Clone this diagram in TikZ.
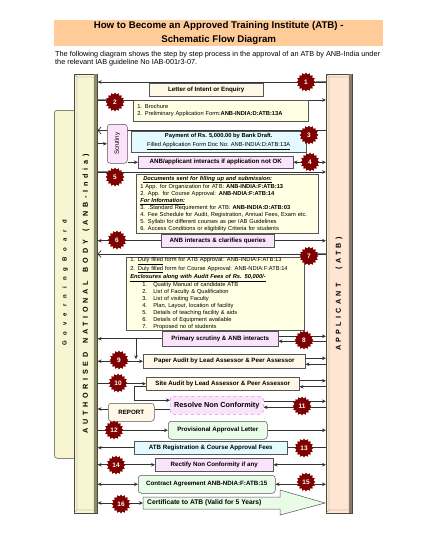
\documentclass[tikz,border=0pt]{standalone}
\usepackage{fontspec}
\setmainfont{Liberation Sans}
\setsansfont{Liberation Sans}
\usetikzlibrary{arrows.meta,shapes.geometric}
\definecolor{titlefill}{HTML}{FFCC99}
\definecolor{lbarfill}{HTML}{F8F5D3}
\definecolor{lbardark}{HTML}{8E8A66}
\definecolor{barline}{HTML}{4A4A3A}
\definecolor{rbarfill}{HTML}{FEE6D3}
\definecolor{rbardark}{HTML}{8A7A6C}
\definecolor{creamf}{HTML}{FFF7E8}
\definecolor{lyellow}{HTML}{FFFFE3}
\definecolor{pinkf}{HTML}{FCE3FC}
\definecolor{cyanf}{HTML}{E3FAFE}
\definecolor{greenf}{HTML}{E8FCE8}
\definecolor{badgered}{HTML}{7F0000}
\definecolor{boxline}{HTML}{555555}
\definecolor{pinkline}{HTML}{E090C8}
\pgfdeclarelayer{bg}
\pgfsetlayers{bg,main}
\tikzset{
  bx/.style={draw=boxline, line width=0.5pt, anchor=north west, inner sep=0pt, align=center,
    font=\fontsize{6.2}{7}\selectfont\bfseries},
  lst/.style={draw=boxline, line width=0.5pt, anchor=north west, inner ysep=0pt, inner xsep=4pt,
    align=left, font=\fontsize{5.75}{7}\selectfont},
  badge/.style={star, star points=16, star point ratio=1.25, fill=badgered, minimum size=19pt,
    inner sep=0pt, text=white, font=\fontsize{6.5}{6.5}\selectfont\bfseries},
  ln/.style={draw=black!80, line width=0.7pt},
  arr/.style={ln, -{Stealth[length=4pt,width=3.6pt]}},
  darr/.style={ln, {Stealth[length=4pt,width=3.6pt]}-{Stealth[length=4pt,width=3.6pt]}},
  barb/.style={ln, -{Straight Barb[length=3pt,width=7pt]}},
  tail/.style={draw=black!50, line width=1.6pt},
}
\begin{document}
\begin{tikzpicture}[x=1pt,y=-1pt]
\useasboundingbox (0,0) rectangle (428,554);
% title and description
\node[fill=titlefill, minimum width=329pt, minimum height=26pt, anchor=north west, inner sep=0pt,
  align=center, font=\fontsize{9.7}{13.5}\selectfont\bfseries] (title) at (54,20)
  {How to Become an Approved Training Institute (ATB) -\\Schematic Flow Diagram};
\node[anchor=north west, inner sep=0pt, align=left, font=\fontsize{7.3}{8}\selectfont] (desc) at (55,51.5)
  {The following diagram shows the step by step process in the approval of an ATB by ANB-India under\\the relevant IAB guideline No IAB-001r3-07.};
% governing board
\node[draw=barline, line width=0.5pt, fill=lbarfill, rounded corners=3pt, anchor=north west,
  minimum width=24pt, minimum height=348pt, inner sep=0pt] (gov) at (54,110) {};
\node[inner sep=0pt, font=\fontsize{6}{6}\selectfont\bfseries] (govtxt) at (65,283)
  {\rotatebox{90}{\addfontfeature{LetterSpace=100}Governing\hspace{6pt}Board}};
% left bar
\node[draw=barline, line width=0.6pt, fill=lbarfill, anchor=north west, minimum width=23pt,
  minimum height=439pt, inner sep=0pt] (lbar) at (74,74) {};
\fill[lbardark] (94,74.3) rectangle (96.7,512.7);
\draw[black!50, line width=0.3pt] (77,77) rectangle (94,510) (74,74)--(77,77) (97,74)--(94,77)
  (74,513)--(77,510) (97,513)--(94,510);
\node[inner sep=0pt, font=\fontsize{7.2}{7}\selectfont\bfseries] (anbtxt) at (86,294)
  {\rotatebox{90}{\addfontfeature{LetterSpace=52}AUTHORISED\hspace{3pt} NATIONAL\hspace{3pt} BODY\hspace{3pt} (ANB-India)}};
% right bar
\node[draw=barline, line width=0.6pt, fill=rbarfill, anchor=north west, minimum width=26pt,
  minimum height=439pt, inner sep=0pt] (rbar) at (326,74) {};
\fill[rbardark] (349,74.3) rectangle (351.7,512.7);
\draw[black!50, line width=0.3pt] (329,77) rectangle (349,510) (326,74)--(329,77) (352,74)--(349,77)
  (326,513)--(329,510) (352,513)--(349,510);
\node[inner sep=0pt, font=\fontsize{7.2}{7}\selectfont\bfseries] (apptxt) at (339,294)
  {\rotatebox{90}{\addfontfeature{LetterSpace=45}APPLICANT\hspace{14pt}(ATB)}};
% boxes
\node[bx, fill=creamf, minimum width=114pt, minimum height=13pt] (letter) at (149,83) {Letter of Intent or Enquiry};
\node[lst, fill=lyellow, text width=167pt, minimum height=21pt] (broch) at (133,100)
  {1. Brochure\\2. Preliminary Application Form:\textbf{ANB-INDIA:D:ATB:13A}};
\node[bx, fill=cyanf, minimum width=175pt, minimum height=21pt, font=\fontsize{5.8}{9}\selectfont] (pay) at (131,131)
  {\textbf{Payment of Rs. 5,000.00 by Bank Draft.}\\\underline{Filled Application Form Doc No: ANB-INDIA:D:ATB:13A}};
\node[bx, fill=pinkf, rounded corners=3pt, minimum width=20pt, minimum height=39pt,
  font=\fontsize{6.2}{6}\selectfont] (scr) at (107,124) {\rotatebox{90}{Scrutiny}};
\node[bx, fill=pinkf, minimum width=155pt, minimum height=12pt] (anbq) at (138,156)
  {ANB/applicant interacts if application not OK};
\node[lst, fill=lyellow, text width=174pt, minimum height=59pt] (docs) at (136,174)
  {\hspace*{3pt}\underline{\textbf{\textit{Documents sent for filling up and submission:}}}\\
   1 App. for Organization for ATB: \textbf{ANB-INDIA:F:ATB:13}\\
   2. App. for Course Approval: \textbf{ANB-NDIA:F:ATB:14}\\
   \underline{\textbf{\textit{For Information:}}}\\
   3. .Standard Requirement for ATB: \textbf{ANB-INDIA:D:ATB:03}\\
   4. Fee Schedule for Audit, Registration, Annual Fees, Exam etc.\\
   5. Syllabi for different courses as per IAB Guidelines\\
   6. Access Conditions or eligibility Criteria for students};
\node[bx, fill=pinkf, minimum width=113pt, minimum height=13pt] (q6) at (161,234) {ANB interacts \& clarifies queries};
\node[lst, fill=lyellow, text width=170pt, minimum height=73pt] (duly) at (126,257)
  {1. \underline{Duly filled} form for ATB Approval: ANB-INDIA:F:ATB:13\\
   2. \underline{Duly filled} form for Course Approval: ANB-NDIA:F:ATB:14\\
   \underline{\textbf{\textit{Enclosures along with Audit Fees of Rs. 50,000/-}}}\\
   \hspace*{12pt}\makebox[11pt][l]{1.}Quality Manual of candidate ATB\\
   \hspace*{12pt}\makebox[11pt][l]{2.}List of Faculty \& Qualification\\
   \hspace*{12pt}\makebox[11pt][l]{3.}List of visiting Faculty\\
   \hspace*{12pt}\makebox[11pt][l]{4.}Plan, Layout, location of facility\\
   \hspace*{12pt}\makebox[11pt][l]{5.}Details of teaching facility \& aids\\
   \hspace*{12pt}\makebox[11pt][l]{6.}Details of Equipment available\\
   \hspace*{12pt}\makebox[11pt][l]{7.}Proposed no of students};
\node[bx, fill=pinkf, minimum width=116pt, minimum height=15pt] (prim) at (162,331) {Primary scrutiny \& ANB interacts};
\node[bx, fill=creamf, minimum width=162pt, minimum height=14pt] (paper) at (143,354) {Paper Audit by Lead Assessor \& Peer Assessor};
\node[bx, fill=creamf, minimum width=153pt, minimum height=13pt] (site) at (146,377) {Site Audit by Lead Assessor \& Peer Assessor};
\node[bx, fill=pinkf, draw=pinkline, dashed, rounded corners=3pt, minimum width=93pt, minimum height=18pt,
  font=\fontsize{7.3}{7}\selectfont\bfseries] (resolve) at (170,396) {Resolve Non Conformity};
\node[bx, fill=creamf, rounded corners=3pt, minimum width=46pt, minimum height=18pt] (report) at (108,403) {REPORT};
\node[bx, fill=greenf, rounded corners=3pt, minimum width=99pt, minimum height=18pt] (prov) at (168,421) {Provisional Approval Letter};
\node[bx, fill=cyanf, minimum width=153pt, minimum height=13pt] (reg) at (134,441) {ATB Registration \& Course Approval Fees};
\node[bx, fill=pinkf, minimum width=118pt, minimum height=13pt] (rect) at (155,458) {Rectify Non Conformity if any};
\node[bx, fill=greenf, rounded corners=3pt, minimum width=137pt, minimum height=18pt] (contract) at (138,475) {Contract Agreement ANB-NDIA:F:ATB:15};
\path[draw=boxline, line width=0.5pt, fill=greenf] (143,497) -- (280,497) -- (280,490) -- (325,503)
  -- (280,515) -- (280,509) -- (143,509) -- cycle;
\node[anchor=west, inner sep=0pt, font=\fontsize{6.7}{7}\selectfont\bfseries] (cert) at (147,503)
  {Certificate to ATB (Valid for 5 Years)};
\coordinate (certl) at (143,503);
% badges
\node[badge] (b1) at (306,82) {1};
\node[badge] (b2) at (115,102) {2};
\node[badge] (b3) at (309,135) {3};
\node[badge] (b4) at (310,162) {4};
\node[badge] (b5) at (115,177) {5};
\node[badge] (b6) at (117,240) {6};
\node[badge] (b7) at (309,256) {7};
\node[badge] (b8) at (304,340) {8};
\node[badge] (b9) at (119,360) {9};
\node[badge] (b10) at (118,383) {10};
\node[badge] (b11) at (302,406) {11};
\node[badge] (b12) at (114,430) {12};
\node[badge] (b13) at (304,448) {13};
\node[badge] (b14) at (116,465) {14};
\node[badge] (b15) at (306,482) {15};
\node[badge] (b16) at (121,504) {16};
% helper coordinates
\coordinate (y2) at (0,100);
\coordinate (y3) at (0,130.5);
\coordinate (y5) at (0,172);
\coordinate (y7) at (0,254);
\coordinate (j8) at (136,0);
\coordinate (y11) at (0,409);
% connectors
\begin{pgfonlayer}{bg}
\draw[tail] (b1) -- (b1 -| rbar.west);
\draw[arr] (b1 -| rbar.west) -- (b1 -| lbar.east);
\draw[tail] (y2 -| lbar.east) -- (y2 -| b2);
\draw[arr] (y2 -| lbar.east) -- (y2 -| rbar.west);
\draw[tail] (y3 -| b3) -- (y3 -| rbar.west);
\draw[barb] (y3 -| rbar.west) -- (y3 -| lbar.east);
\draw[arr] (scr.west -| lbar.east) -- (scr.west);
\draw[arr] (anbq.west -| scr.east) -- (anbq.west);
\draw[darr] (anbq.east) -- (anbq.east -| rbar.west);
\draw[tail] (y5 -| lbar.east) -- (y5 -| b5);
\draw[arr] (y5 -| lbar.east) -- (y5 -| rbar.west);
\draw[darr] (q6.west -| lbar.east) -- (q6.west -| rbar.west);
\draw[tail] (y7 -| b7) -- (y7 -| rbar.west);
\draw[barb] (y7 -| rbar.west) -- (y7 -| lbar.east);
\draw[arr] (prim.west) -- (prim.west -| lbar.east);
\draw[arr] (prim.west -| j8) -- ([yshift=2pt]paper.west -| j8);
\draw[arr] ([yshift=2.5pt]prim.east) -- ([yshift=2.5pt]prim.east -| rbar.west);
\draw[arr] ([yshift=-2.5pt]prim.east -| rbar.west) -- ([yshift=-2.5pt]prim.east);
\draw[darr] (paper.west -| lbar.east) -- (paper.west);
\draw[arr] ([yshift=3pt]paper.east) -- ([yshift=3pt]paper.east -| rbar.west);
\draw[arr] ([yshift=-3pt]paper.east -| rbar.west) -- ([yshift=-3pt]paper.east);
\draw[arr] (site.west -| lbar.east) -- (site.west);
\draw[arr] ([yshift=3pt]site.east) -- ([yshift=3pt]site.east -| rbar.west);
\draw[arr] ([yshift=-3pt]site.east -| rbar.west) -- ([yshift=-3pt]site.east);
\draw[arr] ([yshift=-3pt]site.west) -- ++(-12,0) |- ([yshift=5pt]resolve.west);
\draw[arr] ([yshift=4pt]resolve.east) -- ([yshift=4pt]resolve.east -| rbar.west);
\draw[arr] ([yshift=-2pt]resolve.east -| rbar.west) -- ([yshift=-2pt]resolve.east);
\draw[ln] (y11 -| resolve.west) -- (y11 -| report.east);
\draw[arr] (y11 -| report.west) -- (y11 -| lbar.east);
\draw[arr] (prov.west -| lbar.east) -- (prov.west);
\draw[arr] (prov.east) -- (prov.east -| rbar.west);
\draw[arr] (reg.east -| rbar.west) -- (reg.east -| lbar.east);
\draw[darr] (rect.west -| lbar.east) -- (rect.west);
\draw[darr] (rect.east) -- (rect.east -| rbar.west);
\draw[darr] (contract.west -| lbar.east) -- (contract.west);
\draw[darr] (contract.east) -- (contract.east -| rbar.west);
\draw[darr] (certl -| lbar.east) -- (certl);
\end{pgfonlayer}
\end{tikzpicture}
\end{document}
